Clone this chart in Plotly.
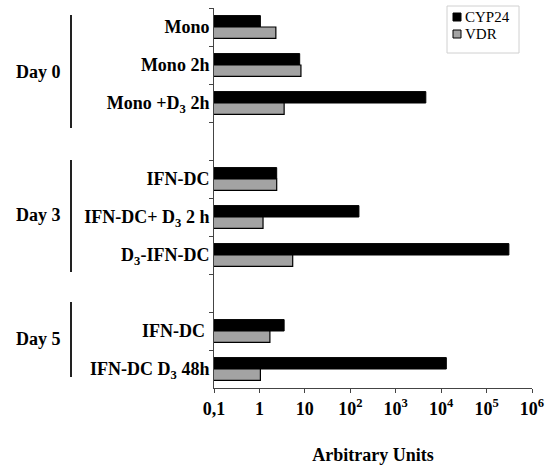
import plotly.graph_objects as go

# ---- data ----
categories = [
    "Mono", "Mono 2h", "Mono +D<sub>3</sub> 2h", " ",
    "IFN-DC", "IFN-DC+ D<sub>3</sub> 2 h", "D<sub>3</sub>-IFN-DC", "  ",
    "IFN-DC ", "IFN-DC D<sub>3</sub> 48h",
]
cyp24 = [1.05, 7.7, 4600, None, 2.4, 155, 310000, None, 3.5, 13000]
vdr = [2.3, 8.2, 3.5, None, 2.4, 1.2, 5.4, None, 1.7, 1.05]
x_tickvals = [0.1, 1, 10, 100, 1e3, 1e4, 1e5, 1e6]
x_ticktext = ["0,1", "1", "10", "10<sup>2</sup>", "10<sup>3</sup>",
              "10<sup>4</sup>", "10<sup>5</sup>", "10<sup>6</sup>"]
groups = ["Day 0", "Day 3", "Day 5"]

FONT = "Liberation Serif"

fig = go.Figure()
fig.add_trace(go.Bar(
    y=categories, x=cyp24, orientation="h", name="CYP24",
    marker=dict(color="black", line=dict(color="black", width=1)),
    showlegend=False,
))
fig.add_trace(go.Bar(
    y=categories, x=vdr, orientation="h", name="VDR",
    marker=dict(color="#a3a3a3", line=dict(color="black", width=1.2)),
    showlegend=False,
))

W, H = 546, 467
L, R, T, B = 214, 14, 8, 79
pw, ph = W - L - R, H - T - B


def px(x):
    return (x - L) / pw


def py(y):
    return (H - B - y) / ph


shapes = []
annotations = []

# group brackets and labels
group_lines = [(15, 128), (160, 272), (302, 377)]
group_label_y = [72, 215, 339]
for g, (y0, y1), ly in zip(groups, group_lines, group_label_y):
    shapes.append(dict(type="line", xref="paper", yref="paper",
                       x0=px(71), x1=px(71), y0=py(y0), y1=py(y1),
                       line=dict(color="#222", width=2)))
    annotations.append(dict(text="<b>%s</b>" % g, xref="paper", yref="paper",
                            x=px(38), y=py(ly), showarrow=False,
                            xanchor="center", yanchor="middle",
                            font=dict(family=FONT, size=18, color="black")))

# manual legend
shapes.append(dict(type="rect", xref="paper", yref="paper",
                   x0=px(447), x1=px(519), y0=py(53), y1=py(6),
                   line=dict(color="#d0d0d0", width=1), fillcolor="white"))
leg = [("CYP24", "black", 17), ("VDR", "#a3a3a3", 34)]
for name, col, yc in leg:
    shapes.append(dict(type="rect", xref="paper", yref="paper",
                       x0=px(453), x1=px(461), y0=py(yc + 4), y1=py(yc - 4),
                       line=dict(color="black", width=1), fillcolor=col))
    annotations.append(dict(text=name, xref="paper", yref="paper",
                            x=px(463), y=py(yc), showarrow=False,
                            xanchor="left", yanchor="middle",
                            font=dict(family=FONT, size=15, color="black")))

fig.update_layout(
    width=W, height=H,
    margin=dict(l=L, r=R, t=T, b=B, autoexpand=False),
    barmode="group", bargap=0.4, bargroupgap=0,
    plot_bgcolor="white", paper_bgcolor="white",
    font=dict(family=FONT, size=18, color="black"),
    shapes=shapes, annotations=annotations,
    showlegend=False,
)
fig.update_xaxes(
    type="log", range=[-1, 6], tickvals=x_tickvals, ticktext=x_ticktext,
    showgrid=False, zeroline=False, showline=True, linecolor="#444",
    linewidth=1, ticks="outside", ticklen=4, tickcolor="#444",
    tickfont=dict(family=FONT, size=18, color="black", weight="bold"),
    title=dict(text="<b>Arbitrary Units</b>", standoff=30,
               font=dict(family=FONT, size=18, color="black")),
)
fig.update_yaxes(
    type="category", categoryorder="array", categoryarray=categories,
    autorange="reversed", showgrid=False, zeroline=False,
    showline=True, linecolor="#444", linewidth=1,
    ticks="outside", tickson="boundaries", ticklen=4, tickcolor="#444",
    tickfont=dict(family=FONT, size=18, color="black", weight="bold"),
)

fig.write_html(
    "out.html",
    config={"displayModeBar": False},
    post_script="document.body.style.margin='0px';"
                "document.body.style.overflow='hidden';",
)
